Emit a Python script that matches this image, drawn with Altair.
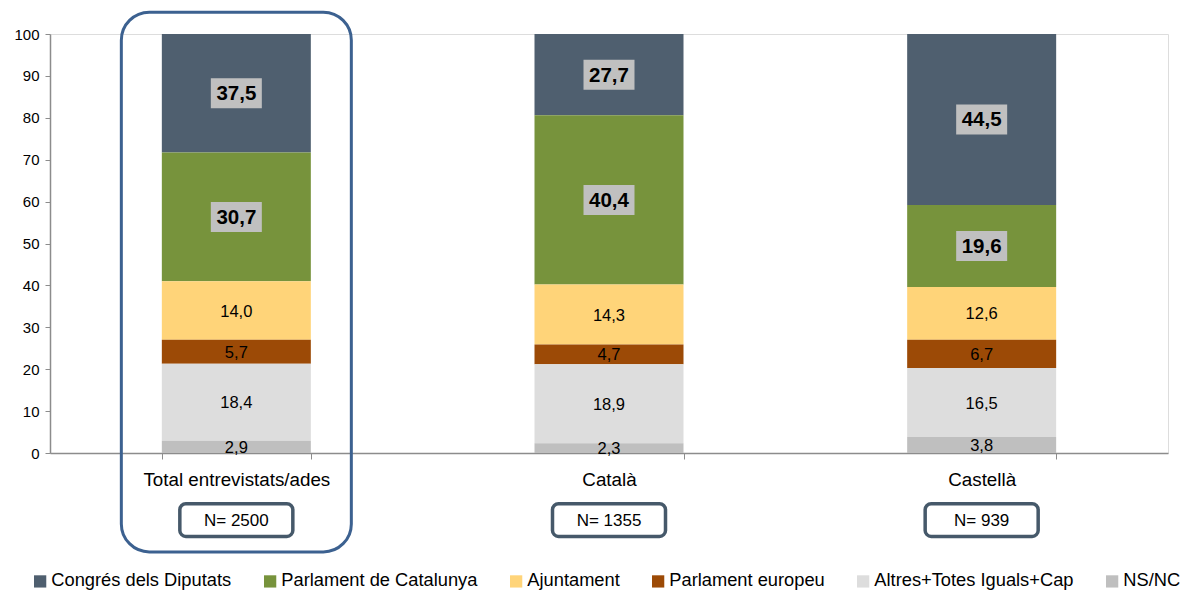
import altair as alt
import pandas as pd

categories = ["Total entrevistats/ades", "Català", "Castellà"]
series = ["Congrés dels Diputats", "Parlament de Catalunya", "Ajuntament",
          "Parlament europeu", "Altres+Totes Iguals+Cap", "NS/NC"]
colors = ["#4F5F6F", "#77933C", "#FFD479", "#9C4A06", "#DDDDDD", "#BFBFBF"]
stack_order = [5, 4, 3, 2, 1, 0]

values = {
    "Congrés dels Diputats": [37.5, 27.7, 44.5],
    "Parlament de Catalunya": [30.7, 40.4, 19.6],
    "Ajuntament": [14.0, 14.3, 12.6],
    "Parlament europeu": [5.7, 4.7, 6.7],
    "Altres+Totes Iguals+Cap": [18.4, 18.9, 16.5],
    "NS/NC": [2.9, 2.3, 3.8],
}
n_labels = ["N= 2500", "N= 1355", "N= 939"]

rows = []
for s, o in zip(series, stack_order):
    for c, v in zip(categories, values[s]):
        rows.append({"cat": c, "series": s, "value": v, "ord": o})
df = pd.DataFrame(rows)
ndf = pd.DataFrame({"cat": categories, "n": n_labels})
boxdf = pd.DataFrame({"cat": [categories[0]]})

FONT = "Liberation Sans"
xenc = alt.X("cat:N", sort=categories,
             scale=alt.Scale(domain=categories, paddingInner=0.6, paddingOuter=0.3),
             axis=alt.Axis(title=None, labelAngle=0, labelFontSize=18.8, labelColor="#000000",
                           labelFont=FONT, tickBand="extent", tickSize=6, labelPadding=11,
                           labelLimit=400, domainColor="#8C8C8C", tickColor="#8C8C8C",
                           domainWidth=1.5))
yscale = alt.Scale(domain=[0, 100], nice=False)

base = alt.Chart(df).transform_stack(
    stack="value", groupby=["cat"], sort=[alt.SortField("ord", order="ascending")], as_=["y0", "y1"]
).transform_calculate(
    top="min(datum.y1, 100)",
    bot="min(datum.y0, 100)",
    mid="(min(datum.y0,100)+min(datum.y1,100))/2",
    label="replace(format(datum.value, '.1f'), '.', ',')",
)

bars = base.mark_bar(width=149).encode(
    x=xenc,
    y=alt.Y("bot:Q", scale=yscale,
            axis=alt.Axis(title=None, values=list(range(0, 101, 10)), labelFontSize=15,
                          labelColor="#000000", labelFont=FONT, grid=False, tickSize=5,
                          labelPadding=6, domainColor="#8C8C8C", tickColor="#8C8C8C",
                          domainWidth=1.5)),
    y2="top:Q",
    color=alt.Color("series:N", scale=alt.Scale(domain=series, range=colors),
                    legend=alt.Legend(title=None, orient="none", direction="horizontal",
                                      legendX=-19, legendY=538, symbolType="square",
                                      symbolSize=150, symbolStrokeWidth=0, labelFontSize=18.3,
                                      labelFont=FONT, labelColor="#000000", labelOffset=2,
                                      columnPadding=29, padding=0, labelLimit=400)),
)

big_boxes = base.transform_filter("datum.ord >= 4").mark_point(
    shape="M-1.7,-1H1.7V1H-1.7Z", size=900, filled=True, color="#C0C0C0", opacity=1
).encode(x=alt.X("cat:N", sort=categories), y=alt.Y("mid:Q", scale=yscale))

big_text = base.transform_filter("datum.ord >= 4").mark_text(
    fontSize=20.5, fontWeight="bold", font=FONT, color="#000000", baseline="middle", dy=1
).encode(x=alt.X("cat:N", sort=categories), y=alt.Y("mid:Q", scale=yscale), text="label:N")

small_text = base.transform_filter("datum.ord < 4").mark_text(
    fontSize=16.5, font=FONT, color="#000000", baseline="middle", dy=1
).encode(x=alt.X("cat:N", sort=categories), y=alt.Y("mid:Q", scale=yscale), text="label:N")

big_frame = alt.Chart(boxdf).mark_bar(
    width=230, fill=None, fillOpacity=0, stroke="#3C6190", strokeWidth=3, cornerRadius=28, clip=False
).encode(x=alt.X("cat:N", sort=categories), y=alt.datum(105.2, scale=yscale), y2=alt.datum(-23.6))

n_boxes = alt.Chart(ndf).mark_bar(
    width=113, fill="#FFFFFF", stroke="#46596A", strokeWidth=3.5, cornerRadius=6, clip=False
).encode(x=alt.X("cat:N", sort=categories), y=alt.datum(-12.1, scale=yscale), y2=alt.datum(-19.9))

n_text = alt.Chart(ndf).mark_text(
    fontSize=17, font=FONT, color="#000000", baseline="middle", dy=1, clip=False
).encode(x=alt.X("cat:N", sort=categories), y=alt.datum(-16.0, scale=yscale), text="n:N")

chart = alt.layer(bars, big_boxes, big_text, small_text, big_frame, n_boxes, n_text).properties(
    width=1118, height=419,
    autosize=alt.AutoSizeParams(type="none"),
    padding={"left": 42, "top": 26, "right": 14, "bottom": 138},
).configure_view(stroke=None).configure(background="#FFFFFF")

chart.save("out.html", embed_options={"renderer": "svg", "actions": False})
